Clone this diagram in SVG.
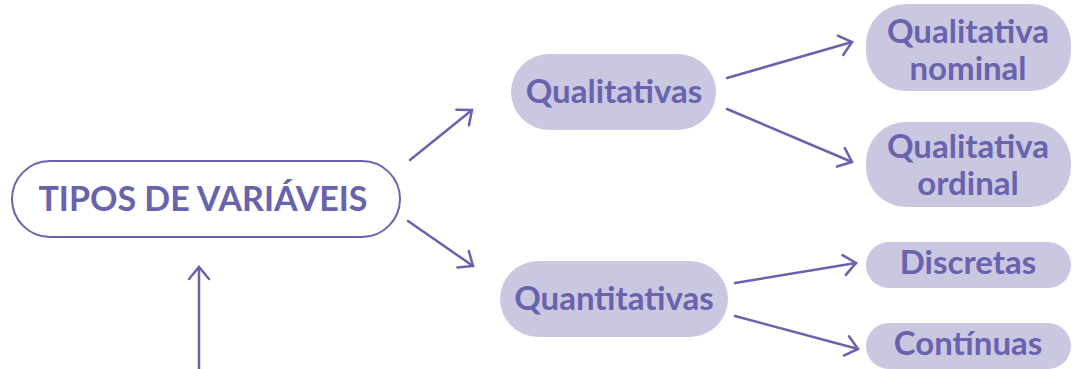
<svg xmlns="http://www.w3.org/2000/svg" width="1075" height="369" viewBox="0 0 1075 369">
<style>
.t{font-family:Lato,"Open Sans","Liberation Sans",sans-serif;font-weight:700;fill:#6962ad;text-anchor:middle;font-size:33px}
.f{fill:#cac7e1}
.c{stroke:#6962ad;stroke-width:2.5;fill:none;stroke-linecap:round}
</style>
<defs>
<marker id="ah" markerUnits="userSpaceOnUse" viewBox="-14 -12 16 24" refX="0" refY="0" markerWidth="16" markerHeight="24" orient="auto" overflow="visible">
<path d="M-12,-10 L0,0 L-12,10" fill="none" stroke="#6962ad" stroke-width="2.5" stroke-linecap="round" stroke-linejoin="miter"/>
</marker>
</defs>
<rect width="1075" height="369" fill="#ffffff"/>
<g id="connectors">
<line class="c" x1="410" y1="160" x2="472" y2="110" marker-end="url(#ah)"/>
<line class="c" x1="408" y1="221" x2="473" y2="266" marker-end="url(#ah)"/>
<line class="c" x1="727" y1="78" x2="852" y2="42" marker-end="url(#ah)"/>
<line class="c" x1="727" y1="109" x2="852" y2="162" marker-end="url(#ah)"/>
<line class="c" x1="735" y1="283" x2="856" y2="263" marker-end="url(#ah)"/>
<line class="c" x1="735" y1="316" x2="858" y2="349" marker-end="url(#ah)"/>
<line class="c" x1="199" y1="369" x2="199" y2="267" marker-end="url(#ah)"/>
</g>
<g id="tipos">
<rect x="12" y="161" width="388" height="76" rx="38" fill="#ffffff" stroke="#6962ad" stroke-width="2"/>
<text class="t" x="203" y="211" style="font-size:34px">TIPOS DE VARIÁVEIS</text>
</g>
<g id="qualitativas">
<rect class="f" x="511" y="54" width="205" height="76" rx="38"/>
<text class="t" x="614" y="103">Qualitativas</text>
</g>
<g id="quantitativas">
<rect class="f" x="500" y="261" width="228" height="76" rx="38"/>
<text class="t" x="614" y="310">Quantitativas</text>
</g>
<g id="nominal">
<rect class="f" x="866" y="4" width="205" height="87" rx="40"/>
<text class="t" x="968" y="43">Qualitativa</text>
<text class="t" x="968" y="80">nominal</text>
</g>
<g id="ordinal">
<rect class="f" x="866" y="122" width="205" height="85" rx="40"/>
<text class="t" x="968" y="158">Qualitativa</text>
<text class="t" x="968" y="195">ordinal</text>
</g>
<g id="discretas">
<rect class="f" x="866" y="242" width="205" height="46" rx="23"/>
<text class="t" x="968" y="274">Discretas</text>
</g>
<g id="continuas">
<rect class="f" x="866" y="323" width="205" height="46" rx="23"/>
<text class="t" x="968" y="355">Contínuas</text>
</g>
</svg>
